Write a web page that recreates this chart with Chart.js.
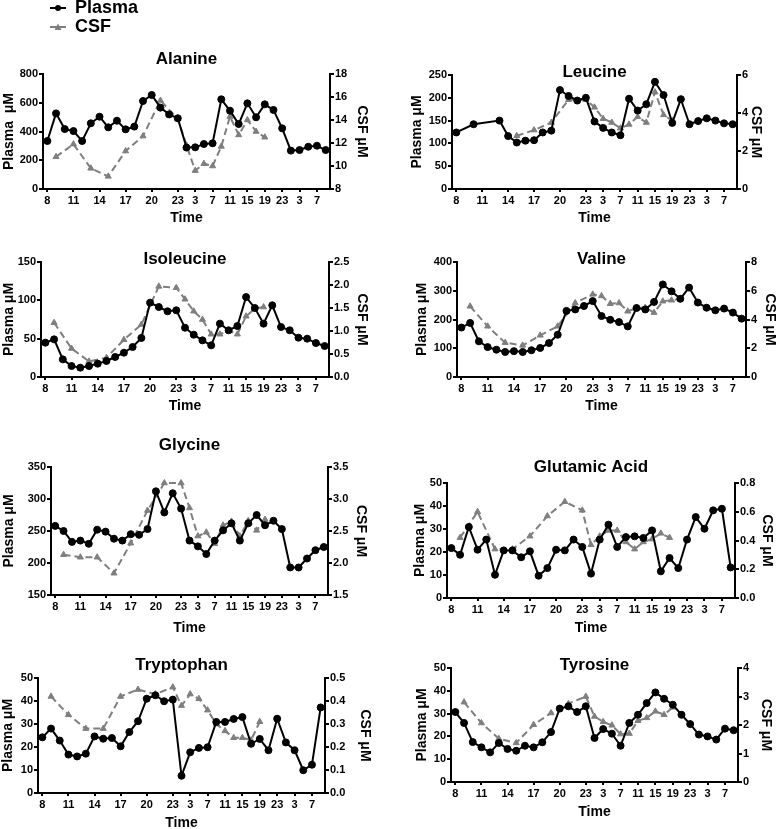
<!DOCTYPE html>
<html><head><meta charset="utf-8">
<script src="https://cdn.jsdelivr.net/npm/chart.js@4"></script>
<style>
html,body{margin:0;padding:0;background:#fff;overflow:hidden;width:777px;height:829px;position:relative}
canvas{position:absolute}
</style>
</head><body>
<script>
// ---------- DATA ----------
const timeLabels = ['8','9','10','11','12','13','14','15','16','17','18','19','20','21','22','23',
  '1','3','5','7','9','11','13','15','17','19','21','23','1','3','5','7','9'];
const tickedIdx = [0,3,6,9,12,15,17,19,21,23,25,27,29,31];
const csfIdx = [1,3,5,7,9,11,13,15,16,17,18,19,20,21,22,23,24,25];

const alaninePlasma = [334,526,417,403,334,457,503,429,475,415,434,612,654,566,519,492,288,290,313,318,624,545,452,596,499,589,550,422,267,271,294,301,271];
const alanineCSF = [10.8,11.9,9.8,9.1,11.3,12.6,15.7,14.1,11.8,9.6,10.2,10.0,11.7,14.3,12.7,14.0,13.0,12.5];

const leucinePlasma = [124,null,142,null,null,150,116,102,106,107,124,128,217,204,194,200,148,134,124,118,198,172,186,235,206,145,197,142,149,155,150,144,142];
const leucineCSF = [null,null,null,2.8,3.1,3.5,4.7,4.7,4.3,3.7,3.5,3.2,3.4,3.8,3.5,5.1,3.9,3.6];

const isoleucinePlasma = [44.8,49.1,23,14.3,12.2,14.3,17.4,20.9,26.1,31.7,39.1,50.9,97,91.3,85.7,87,64.3,55.2,47.8,41.3,69.6,60.9,66.5,104.3,90,69.6,93.5,65.2,60.9,51.3,50,44.3,40.4];
const isoleucineCSF = [1.18,0.62,0.34,0.42,0.81,1.14,1.97,1.94,1.69,1.43,1.25,0.93,0.93,1.01,0.93,1.32,1.49,1.52];

const valinePlasma = [172,188,124,104,95,87,90,87,93,101,118,147,230,235,247,264,212,199,191,176,240,235,261,322,298,272,311,259,241,232,238,224,203];
const valineCSF = [4.92,3.53,2.39,2.20,2.90,3.53,5.15,5.75,5.64,5.10,5.15,4.57,4.80,4.83,4.48,5.27,5.34,5.45];

const glycinePlasma = [258,250,233,235,230,252,249,238,235,245,244,253,312,279,309,285,235,226,214,235,251,262,235,262,275,259,266,253,193,193,207,220,225];
const glycineCSF = [2.13,2.09,2.09,1.84,2.31,2.82,3.25,3.25,2.86,2.42,2.48,2.30,2.59,2.65,2.42,2.66,2.51,2.68];

const glutamicPlasma = [21.7,18.8,30.9,21,25.4,10.1,20.7,20.7,17.7,20.3,9.7,13,21,20.7,25.4,22.2,10.6,25.4,31.9,22.2,26.5,26.8,26.1,29.4,11.6,17.4,13,25.4,35.2,30.1,38.1,38.8,13.3];
const glutamicCSF = [0.42,0.60,0.34,0.34,0.43,0.57,0.67,0.61,0.37,0.43,0.47,0.47,0.39,0.34,0.39,0.41,0.45,0.42];

const tryptophanPlasma = [24.2,28,22.8,16.7,15.9,17.1,24.6,23.6,23.9,20.3,26.5,31.2,41,42.5,39.9,40.6,7.5,17.7,19.6,19.9,30.9,30.9,32.2,33,21.4,23.5,18.6,32.3,22,18.6,9.9,12.3,37.2];
const tryptophanCSF = [0.42,0.34,0.28,0.28,0.42,0.45,0.43,0.46,0.38,0.43,0.41,0.36,0.30,0.27,0.24,0.24,0.23,0.31];

const tyrosinePlasma = [30.7,25.9,17.5,15.2,13,17.1,14.5,13.7,15.9,15.2,17.4,21.9,32.2,33.2,30.7,33.2,19.3,23.2,21.2,15.9,25.9,29.5,34.6,39.3,36.5,33.9,29.5,25.4,20.8,20,18.6,23.4,22.7];
const tyrosineCSF = [2.80,2.07,1.52,1.37,2.01,2.42,2.75,3.0,2.30,2.11,1.99,1.68,1.70,2.15,2.25,2.48,2.36,2.62];

// ---------- LAYOUT / STYLE ----------
const FONT = "'Liberation Sans', Arial, Helvetica, sans-serif";
Chart.defaults.font.family = FONT;
Chart.defaults.font.weight = 'bold';
Chart.defaults.color = '#000';
const AXW = 50, XAH = 40, TFS = 17, AFS = 14, KFS = 11;
const CSF_COLOR = '#7f7f7f';

const panels = [
  {title:'Alanine', plasma:alaninePlasma, csf:alanineCSF, yt:'Plasma  μM', y:[0,800,200,0], y2:[8,18,2,0],
   L:43,R:330,T:74,B:189,titleY:59,ltx:9,rtx:362,tOff:29.3},
  {title:'Leucine', plasma:leucinePlasma, csf:leucineCSF, yt:'Plasma μM', y:[0,250,50,0], y2:[0,6,2,0],
   L:452,R:737,T:75,B:189,titleY:72,ltx:417,rtx:756,tOff:29.3},
  {title:'Isoleucine', plasma:isoleucinePlasma, csf:isoleucineCSF, yt:'Plasma μM', y:[0,150,50,0], y2:[0,2.5,0.5,1],
   L:41,R:329,T:262,B:377,titleY:259,ltx:9,rtx:362,tOff:29},
  {title:'Valine', plasma:valinePlasma, csf:valineCSF, yt:'Plasma μM', y:[0,400,100,0], y2:[0,8,2,0],
   L:457,R:746,T:262,B:377,titleY:259,ltx:422,rtx:770,tOff:29.3},
  {title:'Glycine', plasma:glycinePlasma, csf:glycineCSF, yt:'Plasma μM', y:[150,350,50,0], y2:[1.5,3.5,0.5,1],
   L:51,R:328,T:467,B:595,titleY:445,ltx:9,rtx:361,tOff:33},
  {title:'Glutamic Acid', plasma:glutamicPlasma, csf:glutamicCSF, yt:'Plasma μM', y:[0,50,10,0], y2:[0,0.8,0.2,1],
   L:447,R:735,T:483,B:598,titleY:467,ltx:420,rtx:767,tOff:30},
  {title:'Tryptophan', plasma:tryptophanPlasma, csf:tryptophanCSF, yt:'Plasma μM', y:[0,50,10,0], y2:[0,0.5,0.1,1],
   L:38,R:325,T:678,B:793,titleY:665,ltx:8,rtx:365,tOff:30},
  {title:'Tyrosine', plasma:tyrosinePlasma, csf:tyrosineCSF, yt:'Plasma μM', y:[0,50,10,0], y2:[0,4,1,0],
   L:451,R:738,T:668,B:782,titleY:665,ltx:422,rtx:766,tOff:30}
];

function expandCSF(vals){
  const out = new Array(timeLabels.length).fill(null);
  csfIdx.forEach((ix,k)=>{ out[ix] = vals[k]; });
  return out;
}

function yScale(pos, rng, titleText, titlePad){
  return {
    type:'linear', position:pos, min:rng[0], max:rng[1],
    grid:{drawOnChartArea:false, color:'#000', lineWidth:2, tickLength:4},
    border:{display:true, color:'#000', width:2},
    ticks:{stepSize:rng[2], padding:1, color:'#000', font:{size:KFS, weight:'bold'},
      callback:(v)=>Number(v).toFixed(rng[3])},
    title:{display:true, text:titleText, color:'#000', font:{size:AFS, weight:'bold', lineHeight:1},
      padding:{top:titlePad, bottom:0}},
    afterFit:(s)=>{ s.width = AXW; }
  };
}

panels.forEach(p=>{
  const ctExact = p.titleY - TFS/2;
  const ct = Math.round(ctExact);
  const padTop = ctExact - ct;
  const padBottom = p.T - ct - TFS - padTop;
  const cl = p.L - AXW;
  const w = p.R - p.L + 2*AXW;
  const h = p.B + XAH - ct;
  const cv = document.createElement('canvas');
  cv.width = w; cv.height = h;
  cv.style.left = cl + 'px'; cv.style.top = ct + 'px';
  cv.style.width = w + 'px'; cv.style.height = h + 'px';
  document.body.appendChild(cv);

  new Chart(cv, {
    type:'line',
    data:{
      labels: timeLabels,
      datasets:[
        {label:'Plasma', data:p.plasma, yAxisID:'y', borderColor:'#000', backgroundColor:'#000',
         borderWidth:2, pointRadius:3.5, pointBorderWidth:1, pointBackgroundColor:'#000', pointBorderColor:'#000',
         pointStyle:'circle', tension:0, spanGaps:true},
        {label:'CSF', data:expandCSF(p.csf), yAxisID:'y2', borderColor:CSF_COLOR, backgroundColor:CSF_COLOR,
         borderWidth:2, borderDash:[7,4], pointRadius:3.5, pointBorderWidth:1, pointBackgroundColor:CSF_COLOR,
         pointBorderColor:CSF_COLOR, pointStyle:'triangle', tension:0, spanGaps:true}
      ]
    },
    options:{
      responsive:false, animation:false, devicePixelRatio:1,
      layout:{padding:0, autoPadding:false},
      plugins:{
        legend:{display:false}, tooltip:{enabled:false},
        title:{display:true, text:p.title, color:'#000', font:{size:TFS, weight:'bold', lineHeight:1},
          padding:{top:padTop, bottom:padBottom}}
      },
      scales:{
        x:{type:'category', offset:true,
          grid:{offset:false, drawOnChartArea:false, lineWidth:2, tickLength:3,
            color:(c)=> tickedIdx.includes(c.index) ? '#000' : 'rgba(0,0,0,0)'},
          border:{display:true, color:'#000', width:2},
          ticks:{autoSkip:false, maxRotation:0, minRotation:0, padding:2, color:'#000',
            font:{size:KFS, weight:'bold'},
            callback:(v,i)=> tickedIdx.includes(i) ? timeLabels[i] : ''},
          title:{display:true, text:'Time', color:'#000', font:{size:AFS, weight:'bold', lineHeight:1},
            padding:{top:0, bottom: XAH - AFS/2 - p.tOff}},
          afterFit:(s)=>{ s.height = XAH; }
        },
        y: yScale('left', p.y, p.yt, p.ltx - cl - AFS/2),
        y2: yScale('right', p.y2, 'CSF μM', (p.R + AXW) - AFS/2 - p.rtx)
      }
    }
  });
});

// ---------- LEGEND ----------
function icon(kind){
  const c = document.createElement('canvas');
  c.width = 16; c.height = 10;
  const g = c.getContext('2d');
  const col = kind === 'plasma' ? '#000' : CSF_COLOR;
  g.strokeStyle = col; g.fillStyle = col; g.lineWidth = 2;
  g.beginPath(); g.moveTo(0,5); g.lineTo(16,5); g.stroke();
  if (kind === 'plasma') {
    g.beginPath(); g.arc(8,5,3,0,Math.PI*2); g.fill();
  } else {
    g.beginPath(); g.moveTo(8,1.5); g.lineTo(11.5,8); g.lineTo(4.5,8); g.closePath(); g.fill();
  }
  return c;
}
const legendNames = ['Plasma','CSF'];
const lc = document.createElement('canvas');
lc.width = 260; lc.height = 42;
lc.style.left = '49px'; lc.style.top = '-2px';
lc.style.width = '260px'; lc.style.height = '42px';
document.body.appendChild(lc);
const icons = [icon('plasma'), icon('csf')];
new Chart(lc, {
  type:'line',
  data:{labels:[], datasets:[
    {label:legendNames[0], data:[], borderColor:'#000'},
    {label:legendNames[1], data:[], borderColor:CSF_COLOR}
  ]},
  options:{
    responsive:false, animation:false, devicePixelRatio:1,
    layout:{padding:0, autoPadding:false},
    scales:{x:{display:false}, y:{display:false}},
    plugins:{
      tooltip:{enabled:false},
      legend:{display:true, position:'left', align:'start', maxWidth:200,
        labels:{usePointStyle:true, pointStyleWidth:16, boxWidth:16, boxHeight:10, padding:1,
          color:'#000', font:{size:18, weight:'bold', lineHeight:1},
          generateLabels:(chart)=> legendNames.map((n,i)=>({
            text:n, pointStyle:icons[i], fillStyle:'#000', strokeStyle:'#000', lineWidth:0,
            hidden:false, datasetIndex:i, fontColor:'#000'
          }))
        }
      }
    }
  }
});
</script>
</body></html>
